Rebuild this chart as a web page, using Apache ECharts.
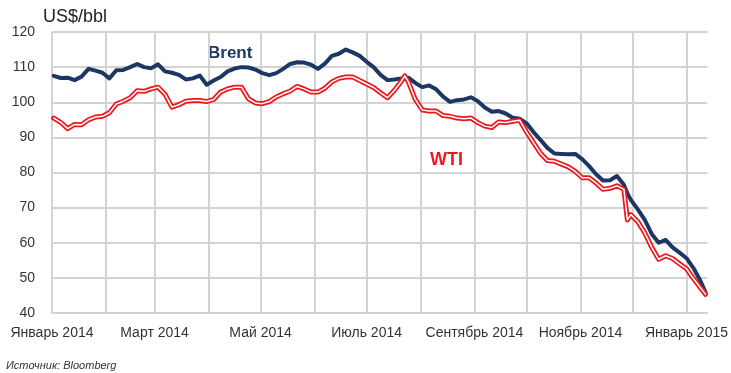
<!DOCTYPE html>
<html>
<head>
<meta charset="utf-8">
<script src="https://cdn.jsdelivr.net/npm/echarts@6/dist/echarts.min.js"></script>
<style>
html,body{margin:0;padding:0;background:#fff;}
#c{width:731px;height:373px;}
</style>
</head>
<body>
<div id="c"></div>
<script>
var monthLabels = ['Январь','Февраль','Март','Апрель','Май','Июнь','Июль','Август','Сентябрь','Октябрь','Ноябрь','Декабрь'];
var yTicks = [40, 50, 60, 70, 80, 90, 100, 110, 120];

var dates = [
'2014-01-02','2014-01-06','2014-01-10','2014-01-14','2014-01-18','2014-01-22','2014-01-26','2014-01-30',
'2014-02-03','2014-02-07','2014-02-11','2014-02-15','2014-02-19','2014-02-23','2014-02-27',
'2014-03-03','2014-03-07','2014-03-11','2014-03-15','2014-03-19','2014-03-23','2014-03-27','2014-03-31',
'2014-04-04','2014-04-08','2014-04-12','2014-04-16','2014-04-20','2014-04-24','2014-04-28',
'2014-05-02','2014-05-06','2014-05-10','2014-05-14','2014-05-18','2014-05-22','2014-05-26','2014-05-30',
'2014-06-03','2014-06-07','2014-06-11','2014-06-15','2014-06-19','2014-06-23','2014-06-27',
'2014-07-01','2014-07-05','2014-07-09','2014-07-13','2014-07-17','2014-07-21','2014-07-23','2014-07-25','2014-07-29',
'2014-08-02','2014-08-06','2014-08-10','2014-08-14','2014-08-18','2014-08-22','2014-08-26','2014-08-30',
'2014-09-03','2014-09-07','2014-09-11','2014-09-15','2014-09-19','2014-09-23','2014-09-27',
'2014-10-01','2014-10-05','2014-10-09','2014-10-13','2014-10-17','2014-10-21','2014-10-25','2014-10-29',
'2014-11-02','2014-11-06','2014-11-10','2014-11-14','2014-11-18','2014-11-22','2014-11-26','2014-11-28',
'2014-11-30','2014-12-04','2014-12-08','2014-12-12','2014-12-16','2014-12-20','2014-12-24','2014-12-28',
'2015-01-01','2015-01-05','2015-01-09','2015-01-12'];

var brent = [
107.5,106.9,107.0,106.3,107.3,109.5,109.0,108.4,
106.8,109.1,109.2,110.0,110.9,110.0,109.7,
110.8,108.8,108.4,107.8,106.5,106.8,107.6,105.0,
106.2,107.2,108.8,109.6,110.0,109.9,109.3,
108.3,107.7,108.3,109.5,110.9,111.4,111.3,110.7,
109.5,111.0,113.2,113.8,115.0,114.2,113.2,
111.5,110.0,107.8,106.3,106.5,106.8,107.0,107.0,105.5,
104.3,104.8,103.7,101.6,100.1,100.6,100.8,101.4,
100.3,98.5,97.3,97.5,96.8,95.6,95.3,
94.0,91.5,89.3,87.0,85.4,85.3,85.2,85.3,
83.8,81.8,79.5,77.7,77.8,79.0,76.5,74.0,
72.2,69.5,66.5,62.5,60.0,60.8,58.7,57.2,
55.6,52.8,49.2,45.8];

var wti = [
95.5,94.3,92.5,93.7,93.6,95.0,95.8,96.0,
97.0,99.5,100.3,101.3,103.3,103.1,103.8,
104.3,102.3,98.6,99.3,100.3,100.5,100.5,100.2,
100.8,102.9,103.8,104.3,104.3,101.0,99.8,
99.6,100.2,101.5,102.4,103.2,104.5,103.8,102.9,
102.9,104.0,105.8,106.8,107.2,107.2,106.2,
105.2,104.2,102.7,101.3,103.4,106.0,107.5,105.8,100.8,
97.8,97.5,97.5,96.2,96.0,95.5,95.3,95.5,
94.2,93.2,92.8,94.4,94.2,94.6,94.9,
91.5,88.5,85.5,83.4,83.2,82.4,81.6,80.3,
78.5,78.5,77.0,75.2,75.5,76.2,75.2,66.5,
68.0,66.0,62.8,58.7,55.3,56.3,55.5,54.0,
52.6,49.8,47.2,45.3];

function pairs(vals){ return dates.map(function(d,i){ return [d, vals[i]]; }); }

var FONT = "'Liberation Sans', Arial, sans-serif";
var GRID = '#d3d3d3';
var NAVY = '#1c3763';
var RED = '#e8191f';

var chart = echarts.init(document.getElementById('c'));
chart.setOption({
  animation: false,
  backgroundColor: '#fff',
  grid: { left: 52, right: 23, top: 32, bottom: 60, containLabel: false },
  xAxis: {
    type: 'time',
    min: '2014-01-01',
    max: '2015-01-13',
    minInterval: 28 * 86400000,
    maxInterval: 31 * 86400000,
    axisLine: { show: true, lineStyle: { color: GRID, width: 2 } },
    axisTick: { show: false },
    splitLine: { show: true, showMinLine: true, showMaxLine: false, lineStyle: { color: GRID, width: 2 } },
    axisLabel: {
      hideOverlap: false,
      showMinLabel: true,
      showMaxLabel: false,
      margin: 13,
      fontFamily: FONT, fontSize: 14, color: '#333',
      formatter: function (val) {
        var d = new Date(val);
        if (d.getDate() === 1 && d.getMonth() % 2 === 0) {
          return monthLabels[d.getMonth()] + ' ' + d.getFullYear();
        }
        return '';
      }
    }
  },
  yAxis: {
    type: 'value',
    min: yTicks[0], max: yTicks[yTicks.length - 1], interval: 10,
    axisLine: { show: false },
    axisTick: { show: false },
    splitLine: { show: true, lineStyle: { color: GRID, width: 2 } },
    axisLabel: { margin: 17, fontFamily: FONT, fontSize: 14, color: '#333' }
  },
  series: [
    { name: 'Brent', type: 'line', data: pairs(brent), showSymbol: false, smooth: false,
      lineStyle: { color: NAVY, width: 4, join: 'round', cap: 'round' }, z: 2 },
    { name: 'WTI', type: 'line', data: pairs(wti), showSymbol: false, smooth: false,
      lineStyle: { color: RED, width: 5, join: 'round', cap: 'round' }, z: 3 },
    { name: 'WTI-inner', type: 'line', data: pairs(wti), showSymbol: false, smooth: false,
      lineStyle: { color: '#ffffff', width: 1.5, join: 'round', cap: 'round' }, z: 4 }
  ],
  graphic: [
    { type: 'text', left: 43, top: 8, style: { text: 'US$/bbl', font: "18px " + FONT, fill: '#222' } },
    { type: 'text', left: 208, top: 45, style: { text: 'Brent', font: "bold 17px " + FONT, fill: NAVY } },
    { type: 'text', left: 430, top: 151, style: { text: 'WTI', font: "bold 18px " + FONT, fill: RED } },
    { type: 'text', left: 6, top: 360, style: { text: 'Источник: Bloomberg', font: "italic 11px " + FONT, fill: '#333' } }
  ]
});
</script>
</body>
</html>
